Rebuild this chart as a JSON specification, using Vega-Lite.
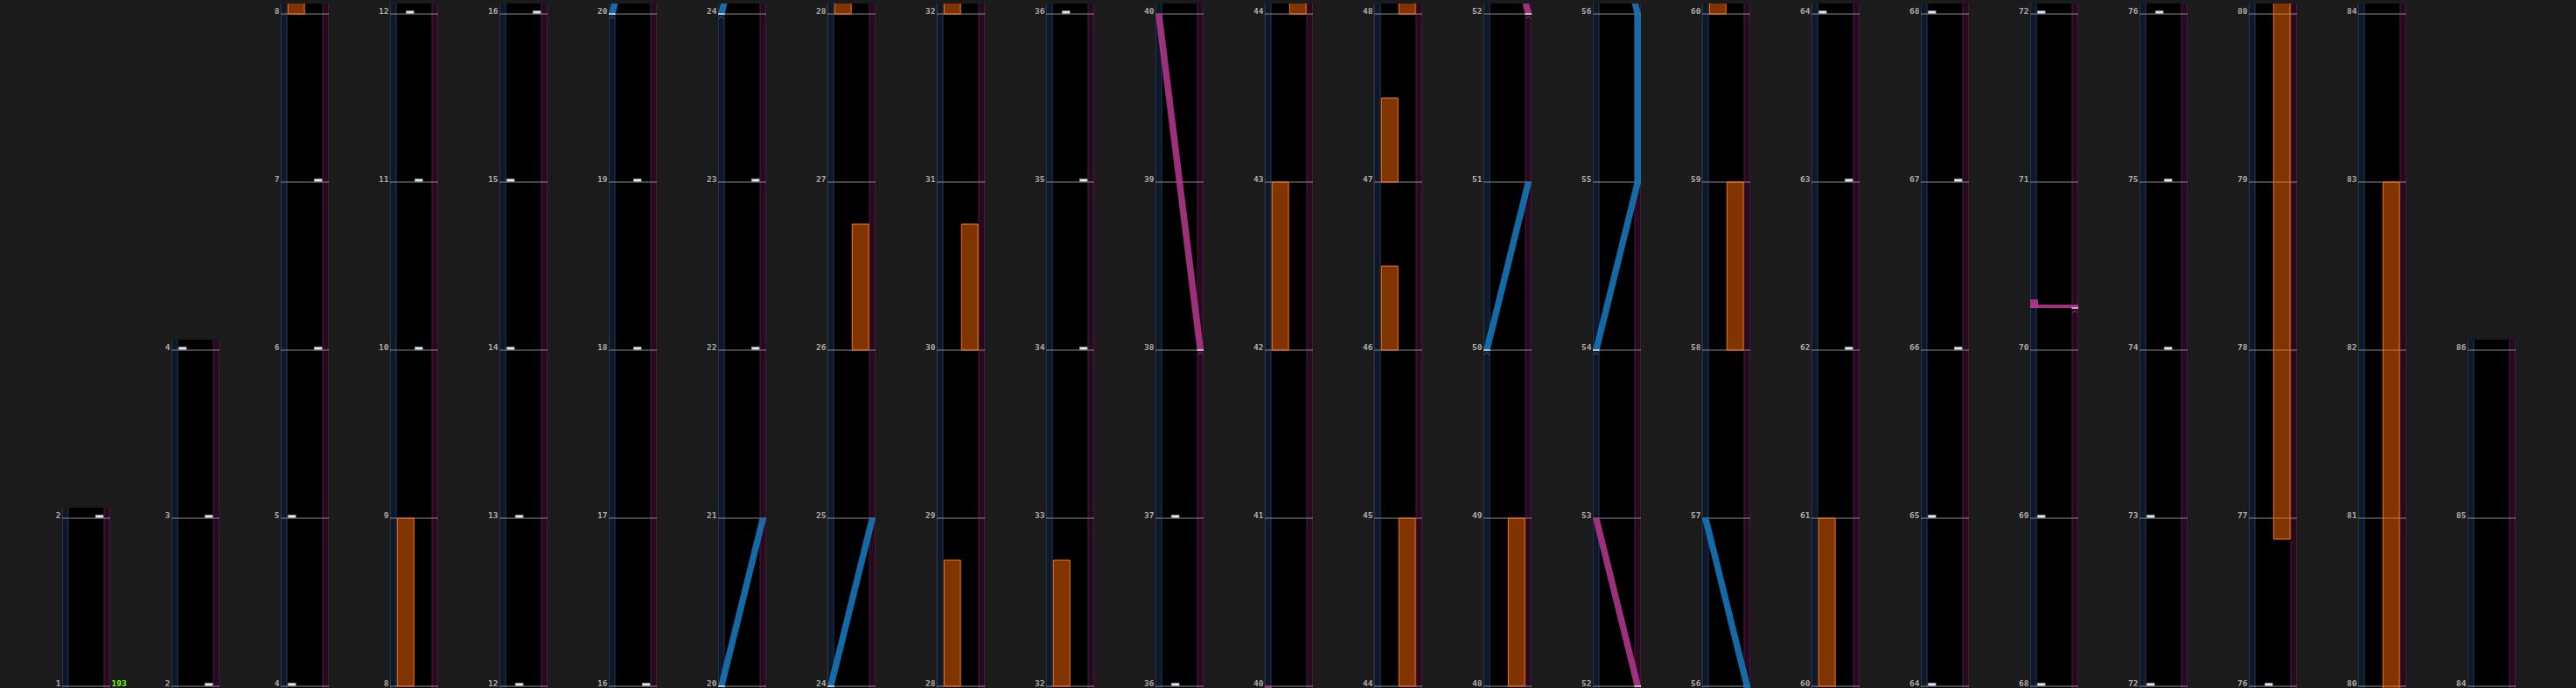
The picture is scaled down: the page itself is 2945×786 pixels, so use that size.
{
"$schema":"https://vega.github.io/schema/vega-lite/v6.json",
"background":"#1b1b1b",
"padding":{"left":63,"top":0,"right":72,"bottom":0},
"bounds":"flush",
"spacing":{"column":70,"row":0},
"config":{"view":{"fill":"#000000","stroke":null},"axis":{"labels":false,"ticks":false,"domain":false,"grid":false}},
"data":{"values":[
{"kind":"win","page":0,"top":1.0625,"ln":[1,2,3]},
{"kind":"win","page":1,"top":2.0625,"ln":[1,2,3]},
{"kind":"win","page":2,"top":4.0625,"ln":[1,2,3]},
{"kind":"win","page":3,"top":4.0625,"ln":[1,2,3]},
{"kind":"win","page":4,"top":4.0625,"ln":[1,2,3]},
{"kind":"win","page":5,"top":4.0625,"ln":[1,2,3]},
{"kind":"win","page":6,"top":4.0625,"ln":[1,2,3]},
{"kind":"win","page":7,"top":4.0625,"ln":[1,2,3]},
{"kind":"win","page":8,"top":4.0625,"ln":[1,2,3]},
{"kind":"win","page":9,"top":4.0625,"ln":[1,2,3]},
{"kind":"win","page":10,"top":4.0625,"ln":[1,2,3]},
{"kind":"win","page":11,"top":4.0625,"ln":[1,2,3]},
{"kind":"win","page":12,"top":4.0625,"ln":[1,2,3]},
{"kind":"win","page":13,"top":4.0625,"ln":[1,2,3]},
{"kind":"win","page":14,"top":4.0625,"ln":[1,2,3]},
{"kind":"win","page":15,"top":4.0625,"ln":[1,2,3]},
{"kind":"win","page":16,"top":4.0625,"ln":[1,2,3]},
{"kind":"win","page":17,"top":4.0625,"ln":[1,2,3]},
{"kind":"win","page":18,"top":4.0625,"ln":[1,2,3]},
{"kind":"win","page":19,"top":4.0625,"ln":[1,2,3]},
{"kind":"win","page":20,"top":4.0625,"ln":[1,2,3]},
{"kind":"win","page":21,"top":4.0625,"ln":[1,2,3]},
{"kind":"win","page":22,"top":2.0625,"ln":[1,2,3]},
{"kind":"ml","page":0,"t":[0,1],"m":[1,2]},
{"kind":"ml","page":1,"t":[0,1,2],"m":[2,3,4]},
{"kind":"ml","page":2,"t":[0,1,2,3,4],"m":[4,5,6,7,8]},
{"kind":"ml","page":3,"t":[0,1,2,3,4],"m":[8,9,10,11,12]},
{"kind":"ml","page":4,"t":[0,1,2,3,4],"m":[12,13,14,15,16]},
{"kind":"ml","page":5,"t":[0,1,2,3,4],"m":[16,17,18,19,20]},
{"kind":"ml","page":6,"t":[0,1,2,3,4],"m":[20,21,22,23,24]},
{"kind":"ml","page":7,"t":[0,1,2,3,4],"m":[24,25,26,27,28]},
{"kind":"ml","page":8,"t":[0,1,2,3,4],"m":[28,29,30,31,32]},
{"kind":"ml","page":9,"t":[0,1,2,3,4],"m":[32,33,34,35,36]},
{"kind":"ml","page":10,"t":[0,1,2,3,4],"m":[36,37,38,39,40]},
{"kind":"ml","page":11,"t":[0,1,2,3,4],"m":[40,41,42,43,44]},
{"kind":"ml","page":12,"t":[0,1,2,3,4],"m":[44,45,46,47,48]},
{"kind":"ml","page":13,"t":[0,1,2,3,4],"m":[48,49,50,51,52]},
{"kind":"ml","page":14,"t":[0,1,2,3,4],"m":[52,53,54,55,56]},
{"kind":"ml","page":15,"t":[0,1,2,3,4],"m":[56,57,58,59,60]},
{"kind":"ml","page":16,"t":[0,1,2,3,4],"m":[60,61,62,63,64]},
{"kind":"ml","page":17,"t":[0,1,2,3,4],"m":[64,65,66,67,68]},
{"kind":"ml","page":18,"t":[0,1,2,3,4],"m":[68,69,70,71,72]},
{"kind":"ml","page":19,"t":[0,1,2,3,4],"m":[72,73,74,75,76]},
{"kind":"ml","page":20,"t":[0,1,2,3,4],"m":[76,77,78,79,80]},
{"kind":"ml","page":21,"t":[0,1,2,3,4],"m":[80,81,82,83,84]},
{"kind":"ml","page":22,"t":[0,1,2],"m":[84,85,86]},
{"kind":"chip","page":0,"t":[1],"lane":[3]},
{"kind":"chip","page":1,"t":[0,1,2],"lane":[3,3,0]},
{"kind":"chip","page":2,"t":[0,1,2,3],"lane":[0,0,3,3]},
{"kind":"chip","page":3,"t":[2,3,4],"lane":[2,2,1]},
{"kind":"chip","page":4,"t":[0,1,2,3,4],"lane":[1,1,0,0,3]},
{"kind":"chip","page":5,"t":[0,2,3],"lane":[3,2,2]},
{"kind":"chip","page":6,"t":[2,3],"lane":[3,3]},
{"kind":"chip","page":9,"t":[2,3,4],"lane":[3,3,1]},
{"kind":"chip","page":10,"t":[0,1],"lane":[1,1]},
{"kind":"chip","page":16,"t":[2,3,4],"lane":[3,3,0]},
{"kind":"chip","page":17,"t":[0,1,2,3,4],"lane":[0,0,3,3,0]},
{"kind":"chip","page":18,"t":[0,1,4],"lane":[0,0,0]},
{"kind":"chip","page":19,"t":[0,1,2,3,4],"lane":[0,0,2,2,1]},
{"kind":"chip","page":20,"t":[0],"lane":[1]},
{"kind":"hold","page":2,"t":4,"t2":5,"lane":0},
{"kind":"hold","page":3,"t":0,"t2":1,"lane":0},
{"kind":"hold","page":7,"t":2,"t2":2.75,"lane":2},
{"kind":"hold","page":7,"t":4,"t2":4.75,"lane":0},
{"kind":"hold","page":8,"t":0,"t2":0.75,"lane":0},
{"kind":"hold","page":8,"t":2,"t2":2.75,"lane":2},
{"kind":"hold","page":8,"t":4,"t2":4.75,"lane":0},
{"kind":"hold","page":9,"t":0,"t2":0.75,"lane":0},
{"kind":"hold","page":11,"t":2,"t2":3,"lane":0},
{"kind":"hold","page":11,"t":4,"t2":5,"lane":2},
{"kind":"hold","page":12,"t":0,"t2":1,"lane":2},
{"kind":"hold","page":12,"t":2,"t2":2.5,"lane":0},
{"kind":"hold","page":12,"t":3,"t2":3.5,"lane":0},
{"kind":"hold","page":12,"t":4,"t2":5,"lane":2},
{"kind":"hold","page":13,"t":0,"t2":1,"lane":2},
{"kind":"hold","page":15,"t":2,"t2":3,"lane":2},
{"kind":"hold","page":15,"t":4,"t2":5,"lane":0},
{"kind":"hold","page":16,"t":0,"t2":1,"lane":0},
{"kind":"hold","page":20,"t":0.875,"t2":7,"lane":2},
{"kind":"hold","page":21,"t":-3.125,"t2":3,"lane":2},
{"kind":"las","page":5,"id":"A","side":"L","t":[4,5],"lx":[-0.75,4]},
{"kind":"las","page":6,"id":"A","side":"L","t":[0,1],"lx":[-0.75,4]},
{"kind":"las","page":6,"id":"B","side":"L","t":[4,5],"lx":[-0.75,4]},
{"kind":"las","page":7,"id":"B","side":"L","t":[0,1],"lx":[-0.75,4]},
{"kind":"las","page":10,"id":"C","side":"R","t":[2,4],"lx":[4,-0.75]},
{"kind":"las","page":11,"id":"C","side":"R","t":[-2,0],"lx":[4,-0.75]},
{"kind":"las","page":13,"id":"D","side":"L","t":[2,3],"lx":[-0.75,4]},
{"kind":"las","page":13,"id":"E","side":"R","t":[4,5],"lx":[4,-0.75]},
{"kind":"las","page":14,"id":"E","side":"R","t":[0,1],"lx":[4,-0.75]},
{"kind":"las","page":14,"id":"F","side":"L","t":[2,3,4,5],"lx":[-0.75,4,4,-0.75]},
{"kind":"las","page":15,"id":"F","side":"L","t":[-2,-1,0,1],"lx":[-0.75,4,4,-0.75]},
{"kind":"slam","page":18,"t":2.25,"lx":-0.75,"lx2":4.75,"side":"R"},
{"kind":"mk","page":5,"t":4,"lx":-0.75,"side":"L"},
{"kind":"mk","page":6,"t":0,"lx":-0.75,"side":"L"},
{"kind":"mk","page":6,"t":4,"lx":-0.75,"side":"L"},
{"kind":"mk","page":7,"t":0,"lx":-0.75,"side":"L"},
{"kind":"mk","page":10,"t":2,"lx":4,"side":"R"},
{"kind":"mk","page":13,"t":2,"lx":-0.75,"side":"L"},
{"kind":"mk","page":13,"t":4,"lx":4,"side":"R"},
{"kind":"mk","page":14,"t":0,"lx":4,"side":"R"},
{"kind":"mk","page":14,"t":2,"lx":-0.75,"side":"L"},
{"kind":"mk","page":18,"t":2.25,"lx":4,"side":"R"},
{"kind":"bpm","page":0,"t":0,"v":"193"}
]},
"facet":{"column":{"field":"page","type":"ordinal","title":null,"header":{"labels":false}}},
"spec":{
"width":55,"height":786,
"layer":[
{"transform":[{"filter":"datum.kind=='win'"},{"flatten":["ln"]}],
 "mark":{"type":"rule","color":"#2a2a2a","strokeWidth":1},
 "encoding":{"x":{"field":"ln","type":"quantitative","scale":{"domain":[-0.75,4.75],"nice":false,"zero":false},"axis":null}}},
{"transform":[{"filter":"datum.kind=='win'"}],
 "mark":{"type":"rule","color":"#0e1828","strokeWidth":7.5},
 "encoding":{"x":{"datum":-0.375,"type":"quantitative","scale":{"domain":[-0.75,4.75],"nice":false,"zero":false},"axis":null}}},
{"transform":[{"filter":"datum.kind=='win'"}],
 "mark":{"type":"rule","color":"#270a1f","strokeWidth":7.5},
 "encoding":{"x":{"datum":4.375,"type":"quantitative","axis":null}}},
{"transform":[{"filter":"datum.kind=='win'"}],
 "mark":{"type":"rule","color":"#1d3450","strokeWidth":1},
 "encoding":{"x":{"datum":-0.7,"type":"quantitative","axis":null}}},
{"transform":[{"filter":"datum.kind=='win'"}],
 "mark":{"type":"rule","color":"#1d3450","strokeWidth":1},
 "encoding":{"x":{"datum":-0.05,"type":"quantitative","axis":null}}},
{"transform":[{"filter":"datum.kind=='win'"}],
 "mark":{"type":"rule","color":"#461838","strokeWidth":1},
 "encoding":{"x":{"datum":4.05,"type":"quantitative","axis":null}}},
{"transform":[{"filter":"datum.kind=='win'"}],
 "mark":{"type":"rule","color":"#461838","strokeWidth":1},
 "encoding":{"x":{"datum":4.7,"type":"quantitative","axis":null}}},
{"transform":[{"filter":"datum.kind=='win'"}],
 "mark":{"type":"rule","color":"#1b1b1b","strokeWidth":1600,"yOffset":-800,"clip":true},
 "encoding":{"y":{"field":"top","type":"quantitative","scale":{"domain":[-0.03125,4.0625],"nice":false,"zero":false},"axis":null}}},
{"transform":[{"filter":"datum.kind=='ml'"},{"flatten":["t","m"]}],
 "mark":{"type":"rule","color":"#8a8a8a","strokeWidth":1},
 "encoding":{"y":{"field":"t","type":"quantitative","scale":{"domain":[-0.03125,4.0625],"nice":false,"zero":false},
  "axis":{"grid":true,"gridColor":"#2a2a2a","gridWidth":1,"labels":false,"ticks":false,"domain":false,"title":null,"values":[0,0.25,0.5,0.75,1,1.25,1.5,1.75,2,2.25,2.5,2.75,3,3.25,3.5,3.75,4]}}}},
{"transform":[{"filter":"datum.kind=='hold'"}],
 "mark":{"type":"rect","fill":"#ff6a00","fillOpacity":0.5,"stroke":"#ff7412","strokeWidth":1,"xOffset":0.8,"x2Offset":19.6,"clip":true},
 "encoding":{"x":{"field":"lane","type":"quantitative","axis":null},"x2":{"field":"lane"},
  "y":{"field":"t","type":"quantitative","axis":null},"y2":{"field":"t2"}}},
{"transform":[{"filter":"datum.kind=='chip'"},{"flatten":["t","lane"]}],
 "mark":{"type":"rect","fill":"#e8eaf2","stroke":"#9aa0b0","strokeWidth":0.6,"xOffset":0.8,"x2Offset":9.6,"yOffset":-0.6,"y2Offset":-3.6},
 "encoding":{"x":{"field":"lane","type":"quantitative","axis":null},"x2":{"field":"lane"},
  "y":{"field":"t","type":"quantitative","axis":null},"y2":{"field":"t"}}},
{"transform":[{"filter":"datum.kind=='las'"},{"flatten":["t","lx"]}],
 "mark":{"type":"area","orient":"horizontal","x2Offset":7.6,"opacity":0.88,"clip":true},
 "encoding":{"x":{"field":"lx","type":"quantitative","stack":null,"axis":null},"x2":{"field":"lx"},
  "y":{"field":"t","type":"quantitative","axis":null},
  "color":{"field":"side","type":"nominal","scale":{"domain":["L","R"],"range":["#1878bb","#b2378c"]},"legend":null},
  "detail":{"field":"id","type":"nominal"}}},
{"transform":[{"filter":"datum.kind=='slam'"}],
 "mark":{"type":"rect","y2Offset":-4,"opacity":0.9},
 "encoding":{"x":{"field":"lx","type":"quantitative","axis":null},"x2":{"field":"lx2"},
  "y":{"field":"t","type":"quantitative","axis":null},"y2":{"field":"t"},
  "color":{"field":"side","type":"nominal","legend":null}}},
{"transform":[{"filter":"datum.kind=='slam'"}],
 "mark":{"type":"rect","x2Offset":9,"y2Offset":-10,"opacity":0.9},
 "encoding":{"x":{"field":"lx","type":"quantitative","axis":null},"x2":{"field":"lx"},
  "y":{"field":"t","type":"quantitative","axis":null},"y2":{"field":"t"},
  "color":{"field":"side","type":"nominal","legend":null}}},
{"transform":[{"filter":"datum.kind=='mk'"}],
 "mark":{"type":"rule","color":"#e8e8f0","strokeWidth":1.4,"x2Offset":7.6},
 "encoding":{"x":{"field":"lx","type":"quantitative","axis":null},"x2":{"field":"lx"},
  "y":{"field":"t","type":"quantitative","axis":null}}},
{"transform":[{"filter":"datum.kind=='mk'"}],
 "mark":{"type":"point","shape":"M-1,0.5L0,-0.5L1,0.5","filled":false,"size":30,"strokeWidth":1,"xOffset":3.8,"yOffset":4,"opacity":1},
 "encoding":{"x":{"field":"lx","type":"quantitative","axis":null},
  "y":{"field":"t","type":"quantitative","axis":null},
  "color":{"field":"side","type":"nominal","legend":null}}},
{"transform":[{"filter":"datum.kind=='ml'"},{"flatten":["t","m"]}],
 "mark":{"type":"text","align":"right","baseline":"alphabetic","dx":-1.5,"dy":-0.5,"font":"DejaVu Sans Mono","fontWeight":"bold","fontSize":9.5,"color":"#aaaaaa"},
 "encoding":{"x":{"datum":-0.75,"type":"quantitative","axis":null},
  "y":{"field":"t","type":"quantitative","axis":null},
  "text":{"field":"m","type":"quantitative"}}},
{"transform":[{"filter":"datum.kind=='bpm'"}],
 "mark":{"type":"text","align":"left","baseline":"alphabetic","dx":1.5,"dy":-0.5,"font":"DejaVu Sans Mono","fontWeight":"bold","fontSize":9.5,"color":"#7cfc00"},
 "encoding":{"x":{"datum":4.75,"type":"quantitative","axis":null},
  "y":{"field":"t","type":"quantitative","axis":null},
  "text":{"field":"v","type":"nominal"}}}
]}
}
